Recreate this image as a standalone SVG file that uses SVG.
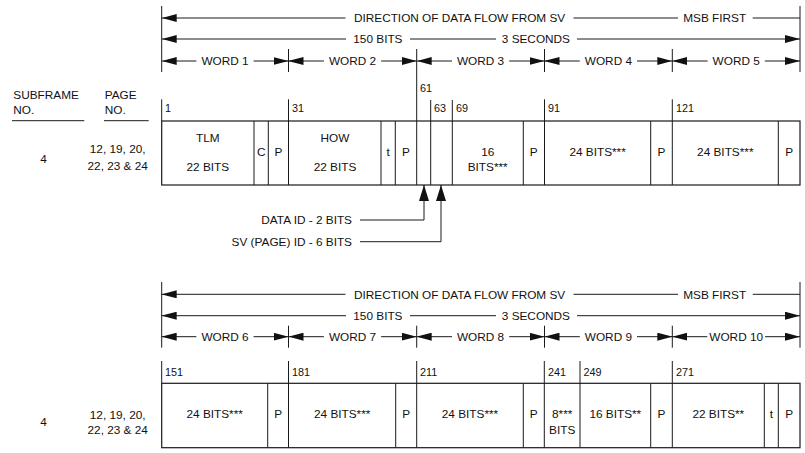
<svg xmlns="http://www.w3.org/2000/svg" width="805" height="453" viewBox="0 0 805 453">
<style>
text{font-family:"Liberation Sans",Arial,sans-serif;font-size:11.8px;fill:#111}
.n{font-size:10.8px}
.m{text-anchor:middle}
.e{text-anchor:end}
.ln{stroke:#1a1a1a;stroke-width:1;fill:none}
.bx{stroke:#1a1a1a;stroke-width:1.2;fill:none}
.ar{stroke:#1a1a1a;stroke-width:1;fill:none;marker-end:url(#ah)}
.up{stroke:#1a1a1a;stroke-width:1;fill:none;marker-end:url(#uh)}
</style>
<defs>
<marker id="ah" viewBox="0 0 15 8" refX="15" refY="4" markerWidth="15" markerHeight="8" markerUnits="userSpaceOnUse" orient="auto"><path d="M0,0 L15,4 L0,8 Z" fill="#111"/></marker>
<marker id="uh" viewBox="0 0 16 10" refX="16" refY="5" markerWidth="16" markerHeight="10" markerUnits="userSpaceOnUse" orient="auto"><path d="M0,0 L16,5 L0,10 Z" fill="#111"/></marker>
</defs>
<rect width="805" height="453" fill="#fff"/>

<!-- ===== TOP SECTION ===== -->
<g id="header-top">
<path class="ln" d="M161.7,6 V72 M800,6 V72 M288.5,49 V72 M544.5,49 V72 M672.3,49 V72"/>
<text class="m" x="459.6" y="22.2">DIRECTION OF DATA FLOW FROM SV</text>
<text class="m" x="714.7" y="22.2">MSB FIRST</text>
<text class="m" x="377.9" y="43.2">150 BITS</text>
<text class="m" x="535.9" y="43.2">3 SECONDS</text>
<text class="m" x="225" y="65">WORD 1</text>
<text class="m" x="352.5" y="65">WORD 2</text>
<text class="m" x="480.6" y="65">WORD 3</text>
<text class="m" x="608.4" y="65">WORD 4</text>
<text class="m" x="736.2" y="65">WORD 5</text>
</g>
<g id="labels-top">
<text x="13.3" y="99.3">SUBFRAME</text>
<text x="13.3" y="114.3">NO.</text>
<text x="104.7" y="99.3">PAGE</text>
<text x="104.7" y="114.3">NO.</text>
<path class="ln" d="M12,120.7 H84.3 M104,120.7 H148.7"/>
<text class="m" x="43.5" y="163.3">4</text>
<text class="m" x="117.7" y="152.7">12, 19, 20,</text>
<text class="m" x="117.7" y="169.8">22, 23 &amp; 24</text>
</g>
<g id="frame-top">
<rect class="bx" x="161.7" y="121" width="638.3" height="64"/>
<path class="ln" d="M161.7,99.3 V121 M288.5,99.3 V185 M416.7,49 V185 M430.7,100 V185 M452.3,100 V185 M544.5,99.3 V185 M672.3,99.3 V185 M254,121 V185 M268.3,121 V185 M381,121 V185 M395.3,121 V185 M523.3,121 V185 M650.7,121 V185 M778.3,121 V185"/>
<text class="n" x="165" y="112">1</text>
<text class="n" x="292" y="112">31</text>
<text class="n" x="420" y="92">61</text>
<text class="n" x="434" y="112">63</text>
<text class="n" x="456" y="112">69</text>
<text class="n" x="548" y="112">91</text>
<text class="n" x="676" y="112">121</text>
<text class="m" x="207.8" y="141.7">TLM</text>
<text class="m" x="207.8" y="170.7">22 BITS</text>
<text class="m" x="261.2" y="156">C</text>
<text class="m" x="278.5" y="156">P</text>
<text class="m" x="335" y="141.7">HOW</text>
<text class="m" x="335" y="170.7">22 BITS</text>
<text class="m" x="388.2" y="156">t</text>
<text class="m" x="406" y="156">P</text>
<text class="m" x="487.7" y="156">16</text>
<text class="m" x="487.7" y="170.7">BITS***</text>
<text class="m" x="533.8" y="156">P</text>
<text class="m" x="597.6" y="156">24 BITS***</text>
<text class="m" x="661.5" y="156">P</text>
<text class="m" x="725.3" y="156">24 BITS***</text>
<text class="m" x="789.2" y="156">P</text>
</g>
<g id="callouts-top">
<text class="e" x="352" y="223.5">DATA ID - 2 BITS</text>
<text class="e" x="352" y="245.5">SV (PAGE) ID - 6 BITS</text>
</g>

<!-- ===== BOTTOM SECTION ===== -->
<g id="header-bottom">
<path class="ln" d="M161.7,282 V347.7 M800,282 V347.7 M288.5,325.7 V347.7 M416.7,325.7 V347.7 M544.5,325.7 V347.7 M672.3,325.7 V347.7"/>
<text class="m" x="459.6" y="298.5">DIRECTION OF DATA FLOW FROM SV</text>
<text class="m" x="714.7" y="298.5">MSB FIRST</text>
<text class="m" x="377.9" y="319.9">150 BITS</text>
<text class="m" x="535.9" y="319.9">3 SECONDS</text>
<text class="m" x="225" y="340.9">WORD 6</text>
<text class="m" x="352.5" y="340.9">WORD 7</text>
<text class="m" x="480.6" y="340.9">WORD 8</text>
<text class="m" x="608.4" y="340.9">WORD 9</text>
<text class="m" x="736.2" y="340.9">WORD 10</text>
</g>
<g id="labels-bottom">
<text class="m" x="43.5" y="426">4</text>
<text class="m" x="117.7" y="419.3">12, 19, 20,</text>
<text class="m" x="117.7" y="433.5">22, 23 &amp; 24</text>
</g>
<g id="frame-bottom">
<rect class="bx" x="161.7" y="383.3" width="638.3" height="64.4"/>
<path class="ln" d="M161.7,361 V383.3 M288.5,361 V447.7 M416.7,361 V447.7 M544.3,361 V447.7 M580,361 V447.7 M672.3,361 V447.7 M267.7,383.3 V447.7 M395.7,383.3 V447.7 M523.3,383.3 V447.7 M650.7,383.3 V447.7 M764.3,383.3 V447.7 M778.3,383.3 V447.7"/>
<text class="n" x="165" y="375.7">151</text>
<text class="n" x="292" y="375.7">181</text>
<text class="n" x="420" y="375.7">211</text>
<text class="n" x="548" y="375.7">241</text>
<text class="n" x="583.5" y="375.7">249</text>
<text class="n" x="676" y="375.7">271</text>
<text class="m" x="214.7" y="418.3">24 BITS***</text>
<text class="m" x="278.2" y="418.3">P</text>
<text class="m" x="342.2" y="418.3">24 BITS***</text>
<text class="m" x="406.2" y="418.3">P</text>
<text class="m" x="470" y="418.3">24 BITS***</text>
<text class="m" x="533.8" y="418.3">P</text>
<text class="m" x="562.2" y="418.3">8***</text>
<text class="m" x="562.2" y="434">BITS</text>
<text class="m" x="615.3" y="418.3">16 BITS**</text>
<text class="m" x="661.5" y="418.3">P</text>
<text class="m" x="718.3" y="418.3">22 BITS**</text>
<text class="m" x="771.3" y="418.3">t</text>
<text class="m" x="789.2" y="418.3">P</text>
</g>

<g id="connectors">
<!-- top row 1 -->
<path class="ar" d="M345.5,18 H161.7"/>
<path class="ln" d="M573.5,18 H678 M752.7,18 H800"/>
<!-- top row 2 -->
<path class="ar" d="M346,39 H161.7"/>
<path class="ln" d="M410,39 H496"/>
<path class="ar" d="M577,39 H800"/>
<!-- top row 3 -->
<path class="ar" d="M196.4,61 H161.7"/><path class="ar" d="M253.6,61 H288.5"/>
<path class="ar" d="M323.9,61 H288.5"/><path class="ar" d="M381.1,61 H416.7"/>
<path class="ar" d="M452,61 H416.7"/><path class="ar" d="M509.2,61 H544.5"/>
<path class="ar" d="M579.8,61 H544.5"/><path class="ar" d="M637,61 H672.3"/>
<path class="ar" d="M707.6,61 H672.3"/><path class="ar" d="M764.8,61 H800"/>
<!-- callout arrows -->
<path class="up" d="M360,220 H424 V185"/>
<path class="up" d="M360,241.7 H441 V185"/>
<!-- bottom row 1 -->
<path class="ar" d="M345.5,294.3 H161.7"/>
<path class="ln" d="M573.5,294.3 H678 M752.7,294.3 H800"/>
<!-- bottom row 2 -->
<path class="ar" d="M346,315.7 H161.7"/>
<path class="ln" d="M410,315.7 H496"/>
<path class="ar" d="M577,315.7 H800"/>
<!-- bottom row 3 -->
<path class="ar" d="M196.4,336.7 H161.7"/><path class="ar" d="M253.6,336.7 H288.5"/>
<path class="ar" d="M323.9,336.7 H288.5"/><path class="ar" d="M381.1,336.7 H416.7"/>
<path class="ar" d="M452,336.7 H416.7"/><path class="ar" d="M509.2,336.7 H544.5"/>
<path class="ar" d="M579.8,336.7 H544.5"/><path class="ar" d="M637,336.7 H672.3"/>
<path class="ar" d="M707.3,336.7 H672.3"/><path class="ar" d="M765.1,336.7 H800"/>
</g>
</svg>
